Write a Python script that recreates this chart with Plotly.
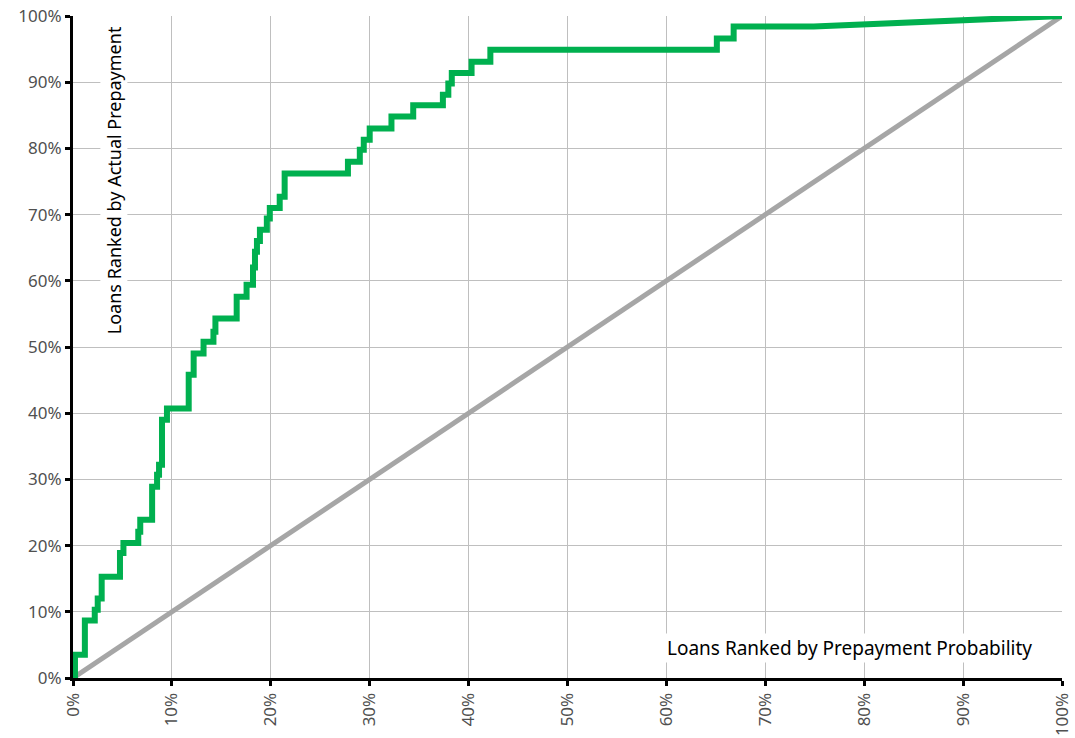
import plotly.graph_objects as go

# Step rises of the cumulative curve: x position (%) and level reached (%)
step_x = [0.2, 1.2, 2.2, 2.5, 2.9, 4.75, 5.1, 6.6, 6.8, 8.0, 8.5, 8.7, 9.0, 9.5,
          11.7, 12.2, 13.2, 14.2, 14.4, 16.55, 17.55, 18.2, 18.4, 18.6, 18.9,
          19.6, 19.9, 20.9, 21.4, 27.8, 29.0, 29.4, 30.0, 32.2, 34.4, 37.4,
          37.95, 38.3, 40.3, 42.2, 65.1, 66.8]
step_y = [3.5, 8.7, 10.3, 12.0, 15.3, 18.9, 20.4, 22.1, 23.9, 28.9, 30.7, 32.2, 39.0, 40.7,
          45.8, 49.0, 50.8, 52.3, 54.3, 57.6, 59.4, 62.0, 64.4, 66.0, 67.7,
          69.4, 71.0, 72.7, 76.2, 78.0, 79.8, 81.3, 83.0, 84.8, 86.5, 88.1,
          89.8, 91.4, 93.1, 94.9, 96.6, 98.4]
tail_x = [74.9, 100.0]
tail_y = [98.4, 100.0]

diag_x = [0, 100]
diag_y = [0, 100]

tick_vals = [0, 10, 20, 30, 40, 50, 60, 70, 80, 90, 100]
tick_text = [f"{v}%" for v in tick_vals]

# build vertices of the step curve
cx, cy = [0.0], [0.0]
prev = 0.0
for x, y in zip(step_x, step_y):
    cx += [x, x]
    cy += [prev, y]
    prev = y
cx += tail_x
cy += tail_y

fig = go.Figure()
fig.add_trace(go.Scatter(x=diag_x, y=diag_y, mode="lines",
                         line=dict(color="#A6A6A6", width=5), showlegend=False))
fig.add_trace(go.Scatter(x=cx, y=cy, mode="lines",
                         line=dict(color="#00B04F", width=6), showlegend=False))

font_fam = "Noto Sans, Open Sans, sans-serif"
axis_common = dict(
    range=[0, 100], tickvals=tick_vals, ticktext=tick_text,
    showgrid=True, gridcolor="#BFBFBF", gridwidth=1,
    showline=True, linecolor="black", linewidth=3,
    ticks="outside", ticklen=5, tickwidth=3, tickcolor="black",
    tickfont=dict(family=font_fam, size=17, color="#505050"),
    zeroline=False, fixedrange=True, automargin=False,
    ticklabeloverflow="allow",
)
fig.update_xaxes(**axis_common, tickangle=-90)
fig.update_yaxes(**axis_common)

fig.add_annotation(text="Loans Ranked by Actual Prepayment", xref="paper", yref="paper",
                   x=0.0415, y=0.752, xanchor="center", yanchor="middle",
                   textangle=-90, showarrow=False, bgcolor="white",
                   font=dict(family=font_fam, size=18, color="black"))
fig.add_annotation(text="Loans Ranked by Prepayment Probability", xref="paper", yref="paper",
                   x=0.785, y=0.045, xanchor="center", yanchor="middle",
                   showarrow=False, bgcolor="white",
                   font=dict(family=font_fam, size=19, color="black"))

fig.update_layout(
    width=1075, height=738,
    margin=dict(l=73, r=13, t=16, b=60),
    plot_bgcolor="white", paper_bgcolor="white",
    hovermode=False,
)
fig.write_html("out.html", config={"displayModeBar": False},
               post_script="document.body.style.margin='0';")
